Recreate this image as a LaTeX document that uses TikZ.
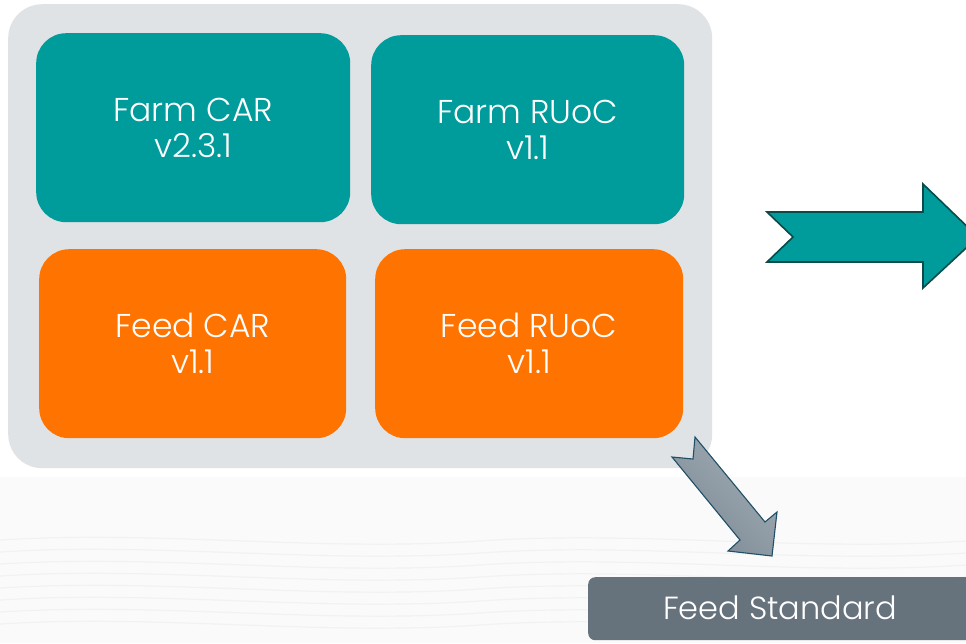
\documentclass[tikz,border=0pt]{standalone}
\usepackage{fontspec}
\setmainfont{Poppins}[UprightFont=* Light]
\begin{document}
\begin{tikzpicture}[x=1pt,y=-1pt,
  tile/.style={rounded corners=30pt, inner sep=0pt, align=center,
    text=white, font=\fontsize{33}{36}\selectfont},
  farm/.style={tile, fill=tealc},
  feed/.style={tile, fill=orangec}]
\definecolor{tealc}{HTML}{009B9B}
\definecolor{orangec}{HTML}{FF7300}
\definecolor{panel}{HTML}{E0E3E6}
\definecolor{slate}{HTML}{66727C}
\definecolor{tealedge}{HTML}{0B4A4A}
\definecolor{grayedge}{HTML}{1F4F66}
\definecolor{grayA}{HTML}{7C8A95}
\definecolor{grayB}{HTML}{A2ACB5}
\definecolor{floor}{HTML}{FAFAFA}
\definecolor{ripple}{HTML}{F1F2F3}
% canvas
\useasboundingbox (0,0) rectangle (966,643);
\fill[white] (0,0) rectangle (966,643);
\fill[floor] (0,477) rectangle (966,643);
\foreach \k in {0,...,7}{
  \draw[ripple, line width=1.2pt]
    (0,{540+\k*12}) .. controls (160,{530+\k*12}) and (320,{552+\k*12}) .. (480,{541+\k*12})
    .. controls (640,{530+\k*12}) and (800,{552+\k*12}) .. (966,{541+\k*12});
}
% panel holding the four tiles
\node[fill=panel, rounded corners=34pt, inner sep=0pt, minimum width=704pt,
  minimum height=464pt, anchor=north west] (container) at (8,4) {};
\node[farm, minimum width=314pt, minimum height=189pt, anchor=north west]
  (farmcar) at (36,33) {Farm CAR\\v2.3.1};
\node[farm, minimum width=313pt, minimum height=189pt, anchor=north west]
  (farmruoc) at (371,35) {Farm RUoC\\v1.1};
\node[feed, minimum width=307pt, minimum height=189pt, anchor=north west]
  (feedcar) at (39,249) {Feed CAR\\v1.1};
\node[feed, minimum width=308pt, minimum height=189pt, anchor=north west]
  (feedruoc) at (375,249) {Feed RUoC\\v1.1};
% standard label
\node[fill=slate, rounded corners=7pt, inner sep=0pt, minimum width=390pt,
  minimum height=63pt, anchor=north west] (feedstd) at (588,577) {};
\node[text=white, font=\fontsize{32}{36}\selectfont, anchor=center]
  (feedstdtext) at (780,608) {Feed Standard};
% right arrow
\draw[fill=tealc, draw=tealedge, line width=1.6pt, line join=miter]
  (767,212) -- (923,212) -- (923,184) -- (978,237) -- (923,288)
  -- (923,262) -- (767,262) -- (793,237) -- cycle;
% diagonal arrow
\draw[left color=grayA, right color=grayB, shading angle=135, draw=grayedge,
  line width=1.1pt, line join=miter]
  (695,437) -- (693,459) -- (672,457) -- (740,540) -- (728,551)
  -- (772,556) -- (777,512) -- (765,522) -- cycle;
\end{tikzpicture}
\end{document}
